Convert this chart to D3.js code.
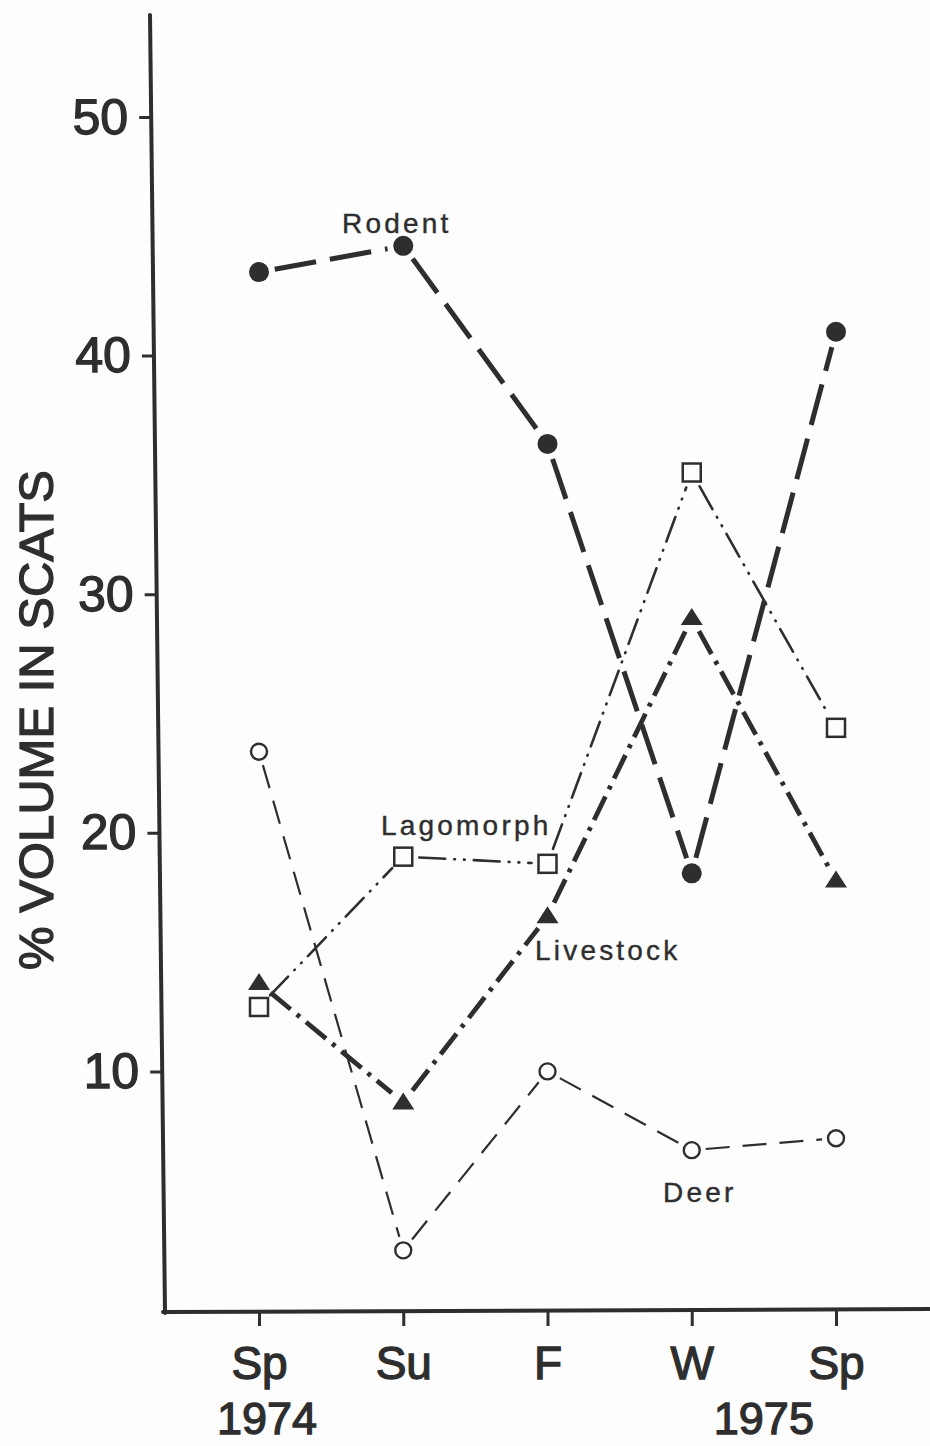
<!DOCTYPE html>
<html>
<head>
<meta charset="utf-8">
<script src="https://cdn.jsdelivr.net/npm/d3@7"></script>
<style>
  html, body { margin: 0; padding: 0; background: #fdfdfd; }
  svg { display: block; }
  text { fill: #2e2e2e; font-family: "Liberation Sans", Arial, sans-serif; }
</style>
</head>
<body>
<svg id="chart" width="930" height="1446"></svg>
<script>
// Seasons sampled (spring 1974 through spring 1975)
const seasons = ["Sp", "Su", "F", "W", "Sp"];
const yearLabels = ["1974", "1975"];
const yTicks = [10, 20, 30, 40, 50];

// Percent volume of each food item in scats, per season
const rodent    = [43.5, 44.6, 36.3, 18.3, 41.0];
const lagomorph = [12.7, 19.0, 18.7, 35.1, 24.4];
const livestock = [13.7, 8.7, 16.5, 29.0, 18.0];
const deer      = [23.4, 2.5, 10.0, 6.7, 7.2];

const ink = "#2e2e2e";
const svg = d3.select("#chart");

const x = d3.scalePoint().domain(d3.range(seasons.length)).range([259, 836]);
const y = d3.scaleLinear().domain([0, 50]).range([1310, 117]);

// Heavier lettering for the axis text
const heavy = sel => sel.attr("stroke", ink).attr("stroke-width", 1.3).attr("paint-order", "stroke");

// ---- Y axis (hand-ruled, leaning slightly to the right toward the bottom)
const yTop = 15, yBottom = 1313;
const lean = Math.atan((165 - 150) / (yBottom - yTop)) * 180 / Math.PI;
const yAxisG = svg.append("g")
  .attr("transform", `translate(${150 - Math.tan(lean * Math.PI / 180) * yTop},0) skewX(${lean})`);
yAxisG.call(d3.axisLeft(y).tickValues(yTicks).tickSize(12).tickPadding(11).tickFormat(d3.format("d")))
  .call(g => g.select(".domain").remove())
  .call(g => g.selectAll(".tick line").attr("stroke", ink).attr("stroke-width", 3))
  .call(g => g.selectAll(".tick text")
      .attr("font-size", 50).attr("fill", ink)
      .attr("font-family", "'Liberation Sans', Arial, sans-serif")
      .call(heavy));
yAxisG.append("line")
  .attr("x1", 0).attr("x2", 0).attr("y1", yTop).attr("y2", yBottom)
  .attr("stroke", ink).attr("stroke-width", 4).attr("stroke-linecap", "round");

// Axis title
svg.append("text")
  .attr("transform", "translate(36,720) rotate(-90)")
  .attr("text-anchor", "middle")
  .attr("dominant-baseline", "central")
  .attr("font-size", 49)
  .call(heavy)
  .text("% VOLUME IN SCATS");

// ---- X axis
const xAxisY = 1311;
const xAxisG = svg.append("g").attr("transform", `translate(0,${xAxisY})`);
xAxisG.call(d3.axisBottom(x).tickSize(15).tickPadding(20).tickFormat(i => seasons[i]))
  .call(g => g.select(".domain").remove())
  .call(g => g.selectAll(".tick line").attr("stroke", ink).attr("stroke-width", 3))
  .call(g => g.selectAll(".tick text")
      .attr("font-size", 46).attr("fill", ink)
      .attr("font-family", "'Liberation Sans', Arial, sans-serif")
      .call(heavy));
svg.append("line")
  .attr("x1", 163).attr("x2", 930).attr("y1", xAxisY + 1).attr("y2", xAxisY - 2)
  .attr("stroke", ink).attr("stroke-width", 4).attr("stroke-linecap", "round");

// Year labels below the season labels
svg.append("text").attr("x", x(0) + 8).attr("y", 1434)
  .attr("text-anchor", "middle").attr("font-size", 45).call(heavy).text(yearLabels[0]);
svg.append("text").attr("x", (x(3) + x(4)) / 2).attr("y", 1434)
  .attr("text-anchor", "middle").attr("font-size", 45).call(heavy).text(yearLabels[1]);

// ---- Series lines: each segment is trimmed so it stops short of the markers
function drawSeries(values, opts) {
  const pts = values.map((v, i) => [x(i), y(v)]);
  const g = svg.append("g");
  for (let i = 0; i < pts.length - 1; i++) {
    const [x1, y1] = pts[i], [x2, y2] = pts[i + 1];
    const len = Math.hypot(x2 - x1, y2 - y1);
    const ux = (x2 - x1) / len, uy = (y2 - y1) / len;
    g.append("line")
      .attr("x1", x1 + ux * opts.gap).attr("y1", y1 + uy * opts.gap)
      .attr("x2", x2 - ux * opts.gap).attr("y2", y2 - uy * opts.gap)
      .attr("stroke", ink)
      .attr("stroke-width", opts.width)
      .attr("stroke-dasharray", opts.dash)
      .attr("stroke-linecap", opts.cap || "butt");
  }
  return pts;
}

const deerPts = drawSeries(deer, { gap: 14, width: 2.2, dash: "24,13" });
const lagoPts = drawSeries(lagomorph, { gap: 16, width: 2.6, dash: "26,9,0.8,9,0.8,9", cap: "round" });
const livePts = drawSeries(livestock, { gap: 15, width: 4.8, dash: "26,8,4,8" });
const rodPts  = drawSeries(rodent, { gap: 16, width: 5, dash: "42,14" });

// ---- Markers
svg.append("g").selectAll("circle").data(deerPts).join("circle")
  .attr("cx", d => d[0]).attr("cy", d => d[1]).attr("r", 8)
  .attr("fill", "#fdfdfd").attr("stroke", ink).attr("stroke-width", 2.4);

svg.append("g").selectAll("rect").data(lagoPts).join("rect")
  .attr("x", d => d[0] - 9).attr("y", d => d[1] - 9)
  .attr("width", 18).attr("height", 18)
  .attr("fill", "#fdfdfd").attr("stroke", ink).attr("stroke-width", 2.5);

svg.append("g").selectAll("path").data(livePts).join("path")
  .attr("d", d => `M${d[0]},${d[1] - 10}L${d[0] + 11},${d[1] + 7}L${d[0] - 11},${d[1] + 7}Z`)
  .attr("fill", ink);

svg.append("g").selectAll("circle").data(rodPts).join("circle")
  .attr("cx", d => d[0]).attr("cy", d => d[1]).attr("r", 10)
  .attr("fill", ink);

// ---- Series labels
const labelStyle = sel => sel.attr("font-size", 28).attr("letter-spacing", 3.2)
  .attr("stroke", ink).attr("stroke-width", 0.4);
svg.append("text").attr("x", 342).attr("y", 233).call(labelStyle).text("Rodent");
svg.append("text").attr("x", 381).attr("y", 835).call(labelStyle).text("Lagomorph");
svg.append("text").attr("x", 535).attr("y", 960).call(labelStyle).text("Livestock");
svg.append("text").attr("x", 663).attr("y", 1202).call(labelStyle).text("Deer");
</script>
</body>
</html>
